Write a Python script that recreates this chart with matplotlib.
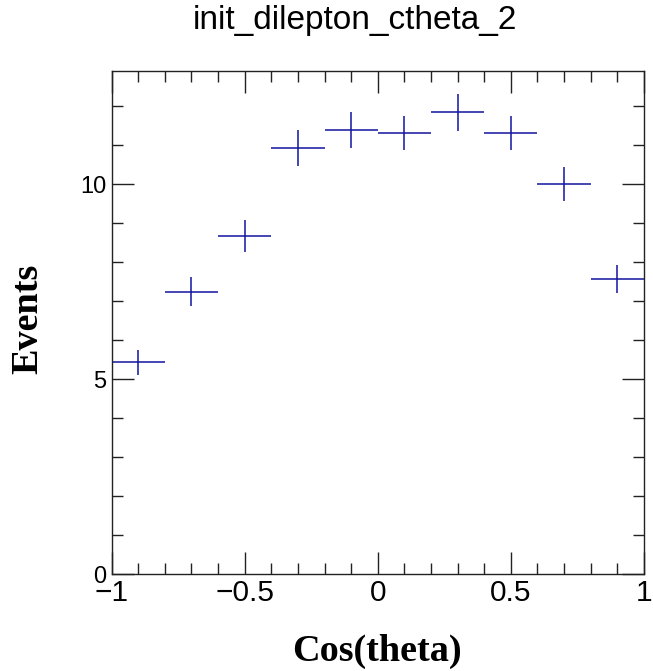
import numpy as np
import matplotlib.pyplot as plt
from matplotlib.ticker import MultipleLocator, FuncFormatter

# histogram bins of cos(theta), 10 bins over [-1, 1]
bin_edges = [-1.0, -0.8, -0.6, -0.4, -0.2, 0.0, 0.2, 0.4, 0.6, 0.8, 1.0]
counts = [5.44, 7.24, 8.68, 10.93, 11.39, 11.31, 11.84, 11.31, 10.01, 7.57]
errors = [0.32, 0.37, 0.41, 0.45, 0.45, 0.44, 0.47, 0.44, 0.44, 0.37]

edges = np.array(bin_edges)
centers = 0.5 * (edges[1:] + edges[:-1])
half_w = 0.5 * (edges[1:] - edges[:-1])

fig = plt.figure(figsize=(6.53, 6.71), dpi=100)
ax = fig.add_axes([0.171, 0.144, 0.815, 0.750])

ax.errorbar(centers, counts, xerr=half_w, yerr=errors, fmt='none',
            ecolor='#1414a0', elinewidth=1.1, capsize=0)

ax.set_xlim(-1, 1)
ax.set_ylim(0, 12.9)

# %g but with a real minus sign, like ROOT
fmt = FuncFormatter(lambda v, pos: ('%g' % v).replace('-', '\u2212'))
ax.xaxis.set_major_locator(MultipleLocator(0.5))
ax.xaxis.set_minor_locator(MultipleLocator(0.1))
ax.xaxis.set_major_formatter(fmt)
ax.yaxis.set_major_locator(MultipleLocator(5))
ax.yaxis.set_minor_locator(MultipleLocator(1))
ax.yaxis.set_major_formatter(fmt)
ax.tick_params(which='both', direction='in', top=True, right=True, width=1.0, color='#222222')
ax.tick_params(which='major', length=16)
ax.tick_params(which='minor', length=8)
ax.tick_params(axis='x', which='major', labelsize=21.5, pad=3)
ax.tick_params(axis='y', which='major', labelsize=17, pad=4)
for lab in ax.get_xticklabels() + ax.get_yticklabels():
    lab.set_family('Liberation Sans')
for s in ax.spines.values():
    s.set_linewidth(1.0)
    s.set_color('#222222')

# ROOT-style labels placed on the canvas
fig.text(0.5766, 0.0149, 'Cos(theta)', family='Liberation Serif', fontweight='bold',
         fontsize=27.5, ha='center', va='baseline')
fig.text(0.0429, 0.5246, 'Events', family='Liberation Serif', fontweight='bold',
         fontsize=27.5, ha='center', va='center', rotation=90)
fig.text(0.5437, 0.957, 'init_dilepton_ctheta_2', family='Liberation Sans', fontsize=24,
         ha='center', va='baseline')

fig.savefig('out.png', dpi=100)
